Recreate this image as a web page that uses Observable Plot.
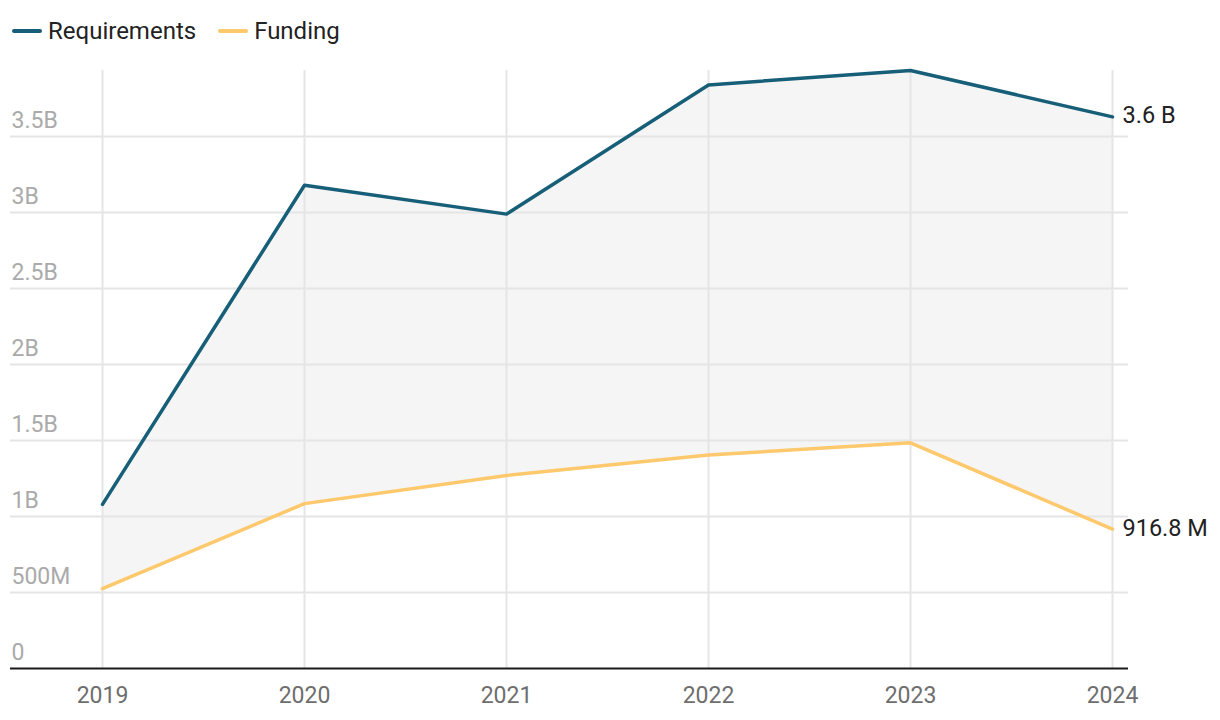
<!DOCTYPE html>
<html>
<head>
<meta charset="utf-8">
<script src="https://cdn.jsdelivr.net/npm/d3@7"></script>
<script src="https://cdn.jsdelivr.net/npm/@observablehq/plot@0.6"></script>
<style>
  html, body { margin: 0; padding: 0; background: #fff; }
  body { width: 1220px; height: 720px; overflow: hidden; font-family: Roboto, sans-serif; position: relative; }
  #legend { position: absolute; left: 12px; top: 15px; height: 32px; display: flex; align-items: center; font-size: 24px; color: #222; }
  .item { display: flex; align-items: center; margin-right: 22px; }
  .sw { width: 30px; height: 4px; border-radius: 2px; margin-right: 6px; }
  #chart { position: absolute; left: 0; top: 60px; }
</style>
</head>
<body>
<div id="legend"></div>
<div id="chart"></div>
<script>
const years = [2019, 2020, 2021, 2022, 2023, 2024];
const requirements = [1.08e9, 3.18e9, 2.99e9, 3.84e9, 3.935e9, 3.63e9];
const funding = [0.525e9, 1.085e9, 1.27e9, 1.405e9, 1.485e9, 0.9168e9];
const seriesNames = ["Requirements", "Funding"];
const seriesColors = ["#175f78", "#fec86c"];
const yTicks = [0, 5e8, 1e9, 1.5e9, 2e9, 2.5e9, 3e9, 3.5e9];
const yTickLabels = ["0", "500M", "1B", "1.5B", "2B", "2.5B", "3B", "3.5B"];

const rows = years.map((yr, i) => ({year: yr, req: requirements[i], fund: funding[i]}));
const last = rows[rows.length - 1];
const endLabels = [
  {year: last.year, v: last.req, label: (last.req / 1e9).toFixed(1) + " B"},
  {year: last.year, v: last.fund, label: (last.fund / 1e6).toFixed(1) + " M"}
];

// legend
const legend = document.getElementById("legend");
seriesNames.forEach((n, i) => {
  const it = document.createElement("div");
  it.className = "item";
  it.innerHTML = `<span class="sw" style="background:${seriesColors[i]}"></span><span>${n}</span>`;
  legend.appendChild(it);
});

const W = 1220, H = 660;
const mL = 10, mR = 92;
const step = 202;
const x0 = years[0] - 92 / step, x1 = years[years.length - 1] + 16 / step;

const chart = Plot.plot({
  width: W,
  height: H,
  marginLeft: mL,
  marginRight: mR,
  marginTop: 10,
  marginBottom: 52,
  style: {fontFamily: "Roboto, sans-serif", fontSize: "22px", overflow: "visible", background: "#fff"},
  x: {type: "linear", domain: [x0, x1], axis: null},
  y: {domain: [0, 3.935e9], axis: null},
  marks: [
    Plot.areaY(rows, {x: "year", y1: "fund", y2: "req", fill: "#f5f5f5", curve: "linear"}),
    Plot.ruleY(yTicks.slice(1), {stroke: "#e5e5e5", strokeWidth: 2}),
    Plot.ruleX(years, {stroke: "#e5e5e5", strokeWidth: 2}),
    Plot.text(yTicks, {y: d => d, text: (d, i) => yTickLabels[i], frameAnchor: "left", textAnchor: "start", lineAnchor: "bottom", dx: 1, dy: -9, fill: "#aaaaaa", fontSize: 23}),
    Plot.ruleY([0], {stroke: "#1a1a1a", strokeWidth: 2}),
    Plot.text(years, {x: d => d, text: d => String(d), frameAnchor: "bottom", lineAnchor: "bottom", dy: 34, fill: "#6e6e6e", fontSize: 23}),
    Plot.line(rows, {x: "year", y: "fund", stroke: seriesColors[1], strokeWidth: 3.5}),
    Plot.line(rows, {x: "year", y: "req", stroke: seriesColors[0], strokeWidth: 3.5}),
    Plot.text(endLabels, {x: "year", y: "v", text: "label", textAnchor: "start", dx: 10, dy: -1, fill: "#222", fontSize: 23.5})
  ]
});
document.getElementById("chart").appendChild(chart);
</script>
</body>
</html>
